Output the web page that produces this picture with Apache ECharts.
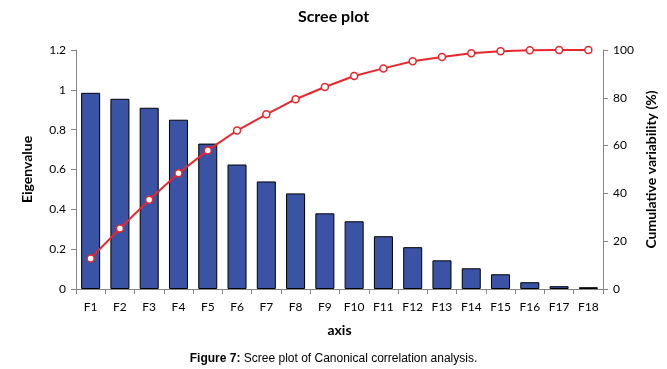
<!DOCTYPE html>
<html><head><meta charset="utf-8">
<script src="https://cdn.jsdelivr.net/npm/echarts@6/dist/echarts.min.js"></script>
<style>html,body{margin:0;padding:0;background:#fff}#c{width:667px;height:369px}</style>
</head><body><div id="c"></div>
<script>
var categories = ['F1','F2','F3','F4','F5','F6','F7','F8','F9','F10','F11','F12','F13','F14','F15','F16','F17','F18'];
var eigenvalues = [0.985,0.955,0.91,0.85,0.73,0.625,0.54,0.48,0.38,0.34,0.265,0.21,0.144,0.104,0.074,0.034,0.014,0.009];
var cumulative = [12.8,25.3,37.3,48.4,58.0,66.3,73.1,79.4,84.5,89.1,92.3,95.3,97.1,98.6,99.5,99.9,100,100];

var chart = echarts.init(document.getElementById('c'));
var font = 'Lato';
var axisCol = '#868686';
chart.setOption({
  animation: false,
  title: [{
    text: 'Scree plot', left: 'center', top: 4,
    textStyle: {fontFamily: font, fontWeight: 'bold', fontSize: 16, color: '#000'}
  }, {
    text: '{b|Figure 7:} Scree plot of Canonical correlation analysis.',
    left: 'center', top: 348,
    textStyle: {fontFamily: 'Liberation Sans', fontWeight: 'normal', fontSize: 12, color: '#000',
      rich: {b: {fontFamily: 'Liberation Sans', fontWeight: 'bold', fontSize: 12}}}
  }],
  grid: {left: 76, right: 64, top: 50, bottom: 80},
  xAxis: {
    type: 'category', data: categories,
    name: 'axis', nameLocation: 'middle', nameGap: 34,
    nameTextStyle: {fontFamily: font, fontWeight: 'bold', fontSize: 14, color: '#000'},
    axisLine: {lineStyle: {color: axisCol}},
    axisTick: {show: true, alignWithLabel: false, length: 5, lineStyle: {color: axisCol}},
    axisLabel: {fontFamily: font, fontSize: 12, color: '#000', margin: 12, interval: 0}
  },
  yAxis: [{
    type: 'value', min: 0, max: 1.2, interval: 0.2,
    name: 'Eigenvalue', nameLocation: 'middle', nameGap: 42, nameRotate: 90,
    nameTextStyle: {fontFamily: font, fontWeight: 'bold', fontSize: 14, color: '#000'},
    axisLine: {show: true, lineStyle: {color: axisCol}},
    axisTick: {show: true, length: 5, lineStyle: {color: axisCol}},
    splitLine: {show: false},
    axisLabel: {fontFamily: font, fontSize: 12, color: '#000', margin: 10,
      formatter: function(v){ return String(Math.round(v*10)/10); }}
  }, {
    type: 'value', min: 0, max: 100, interval: 20, position: 'right',
    name: 'Cumulative variability (%)', nameLocation: 'middle', nameGap: 38, nameRotate: 90,
    nameTextStyle: {fontFamily: font, fontWeight: 'bold', fontSize: 14, color: '#000'},
    axisLine: {show: true, lineStyle: {color: axisCol}},
    axisTick: {show: true, length: 5, lineStyle: {color: axisCol}},
    splitLine: {show: false},
    axisLabel: {fontFamily: font, fontSize: 12, color: '#000', margin: 10}
  }],
  series: [{
    type: 'bar', data: eigenvalues, yAxisIndex: 0, barWidth: '65%',
    itemStyle: {color: '#3A53A4', borderColor: '#000', borderWidth: 1}
  }, {
    type: 'line', data: cumulative, yAxisIndex: 1,
    symbol: 'circle', symbolSize: 7,
    lineStyle: {color: '#E8262B', width: 2},
    itemStyle: {color: '#fff', borderColor: '#E8262B', borderWidth: 1.5}
  }]
});
</script></body></html>
